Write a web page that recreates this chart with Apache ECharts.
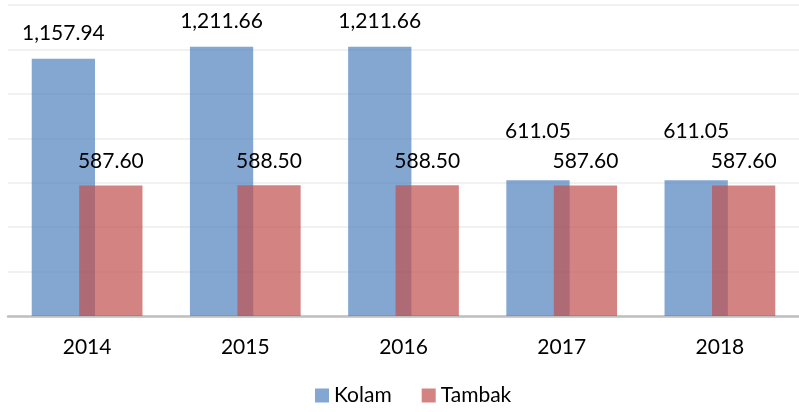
<!DOCTYPE html>
<html>
<head>
<meta charset="utf-8">
<script src="https://cdn.jsdelivr.net/npm/echarts@6/dist/echarts.min.js"></script>
<style>
  html, body { margin: 0; padding: 0; background: #fff; }
  #chart { width: 799px; height: 412px; }
</style>
</head>
<body>
<div id="chart"></div>
<script>
// data
var years = ["2014", "2015", "2016", "2017", "2018"];
var kolam = [1157.94, 1211.66, 1211.66, 611.05, 611.05];
var tambak = [587.6, 588.5, 588.5, 587.6, 587.6];

var fontName = "Lato";
function fmt(v) {
  return v.toLocaleString("en-US", { minimumFractionDigits: 2, maximumFractionDigits: 2 });
}

var chart = echarts.init(document.getElementById("chart"));
chart.setOption({
  animation: false,
  textStyle: { fontFamily: fontName },
  grid: { left: 8, right: 0, top: 5, bottom: 96 },
  legend: {
    bottom: 1,
    left: 310,
    itemWidth: 14,
    itemHeight: 14,
    itemGap: 30,
    icon: "rect",
    textStyle: { fontSize: 21, color: "#000", fontFamily: fontName },
    data: ["Kolam", "Tambak"]
  },
  xAxis: {
    type: "category",
    data: years,
    axisLine: { lineStyle: { color: "#bfbfbf", width: 2.5 } },
    axisTick: { show: false },
    axisLabel: { fontSize: 21, color: "#000", margin: 21, fontFamily: fontName }
  },
  yAxis: {
    type: "value",
    min: 0,
    max: 1400,
    interval: 200,
    axisLabel: { show: false },
    axisLine: { show: false },
    axisTick: { show: false },
    splitLine: { lineStyle: { color: "#ececec", width: 1.5 } }
  },
  series: [
    {
      name: "Kolam",
      type: "bar",
      barWidth: "40%",
      barGap: "-25%",
      itemStyle: { color: "rgba(79,129,189,0.7)" },
      label: {
        show: true,
        position: "top",
        distance: 15,
        fontSize: 21,
        color: "#000",
        fontFamily: fontName,
        formatter: function (p) { return fmt(p.value); }
      },
      data: kolam.map(function (v, i) {
        return i >= 3 ? { value: v, label: { offset: [0, -24] } } : v;
      })
    },
    {
      name: "Tambak",
      type: "bar",
      barWidth: "40%",
      itemStyle: { color: "rgba(192,80,77,0.7)" },
      label: {
        show: true,
        position: "top",
        distance: 14,
        fontSize: 21,
        color: "#000",
        fontFamily: fontName,
        formatter: function (p) { return fmt(p.value); }
      },
      data: tambak
    }
  ]
});
</script>
</body>
</html>
